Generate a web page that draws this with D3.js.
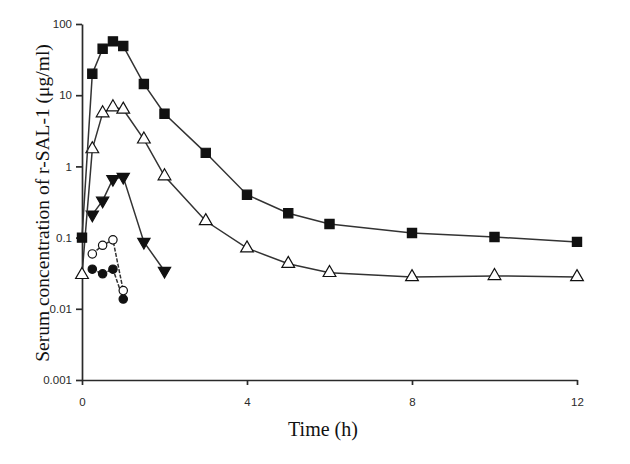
<!DOCTYPE html>
<html><head><meta charset="utf-8">
<script src="https://cdn.jsdelivr.net/npm/d3@7"></script>
<style>body{margin:0;background:#fff}</style>
</head><body>
<svg id="c" width="630" height="464"></svg>
<script>
const xTicks = [0, 4, 8, 12];
const yTicks = [0.001, 0.01, 0.1, 1, 10, 100];
const yTickLabels = ["0.001", "0.01", "0.1", "1", "10", "100"];

const sqTime = [0, 0.25, 0.5, 0.75, 1, 1.5, 2, 3, 4, 5, 6, 8, 10, 12];
const sqVal  = [0.1, 20, 45, 57, 49, 14.4, 5.5, 1.55, 0.40, 0.22, 0.155, 0.116, 0.102, 0.087];

const triTime = [0, 0.25, 0.5, 0.75, 1, 1.5, 2, 3, 4, 5, 6, 8, 10, 12];
const triVal  = [0.030, 1.75, 5.6, 6.8, 6.3, 2.4, 0.73, 0.171, 0.071, 0.043, 0.032, 0.028, 0.029, 0.028];

const invTime = [0.25, 0.5, 0.75, 1, 1.5, 2];
const invVal  = [0.21, 0.33, 0.665, 0.71, 0.087, 0.034];

const ocTime = [0.25, 0.5, 0.75, 1];
const ocVal  = [0.059, 0.078, 0.093, 0.018];

const fcTime = [0.25, 0.5, 0.75, 1];
const fcVal  = [0.036, 0.031, 0.036, 0.0137];

const svg = d3.select("#c");
const x = d3.scaleLinear().domain([0, 12]).range([82, 577]);
const y = d3.scaleLog().domain([0.001, 100]).range([380, 24]);
const ink = "#2a2a2a";

// axes
const xa = svg.append("g").attr("transform", "translate(0,380)")
  .call(d3.axisBottom(x).tickValues(xTicks).tickSize(5).tickSizeOuter(0).tickPadding(13));
const ya = svg.append("g").attr("transform", "translate(82,0)")
  .call(d3.axisLeft(y).tickValues(yTicks).tickFormat((d,i)=>yTickLabels[i]).tickSize(6).tickSizeOuter(0).tickPadding(4));
[xa, ya].forEach(g => {
  g.select(".domain").attr("stroke", ink).attr("stroke-width", 1.7);
  g.selectAll(".tick line").attr("stroke", ink).attr("stroke-width", 1.7);
  g.selectAll(".tick text").attr("fill", "#2a2a2a").attr("font-family", "Liberation Sans, Arial, sans-serif").attr("font-size", 11.5);
});

// titles
svg.append("text").attr("x", 323).attr("y", 436).attr("text-anchor", "middle")
  .attr("font-family", "Liberation Serif, Times New Roman, serif").attr("font-size", 20).attr("fill", "#111")
  .text("Time (h)");
svg.append("text").attr("transform", "translate(49,203) rotate(-90)").attr("text-anchor", "middle")
  .attr("font-family", "Liberation Serif, Times New Roman, serif").attr("font-size", 19.5).attr("fill", "#111")
  .text("Serum concentration of r-SAL-1 (μg/ml)");

const line = d3.line().x(d => x(d[0])).y(d => y(d[1]));
function series(t, v, symbol, size, fill, dash) {
  const pts = t.map((d, i) => [d, v[i]]);
  svg.append("path").datum(pts).attr("d", line).attr("fill", "none")
    .attr("stroke", "#333").attr("stroke-width", 1.5).attr("stroke-dasharray", dash || null);
  svg.append("g").selectAll("path").data(pts).join("path")
    .attr("transform", d => `translate(${x(d[0])},${y(d[1])})` + (symbol === "down" ? " rotate(180)" : ""))
    .attr("d", d3.symbol().type(symbol === "down" ? d3.symbolTriangle : symbol).size(size))
    .attr("fill", fill).attr("stroke", "#111").attr("stroke-width", 1.2);
}
series(fcTime, fcVal, d3.symbolCircle, 55, "#111", "4,1.5");
series(ocTime, ocVal, d3.symbolCircle, 55, "#fff", "4,1.5");
series(invTime, invVal, "down", 65, "#111");
series(triTime, triVal, d3.symbolTriangle, 70, "#fff");
series(sqTime, sqVal, d3.symbolSquare, 85, "#111");
</script>
</body></html>
